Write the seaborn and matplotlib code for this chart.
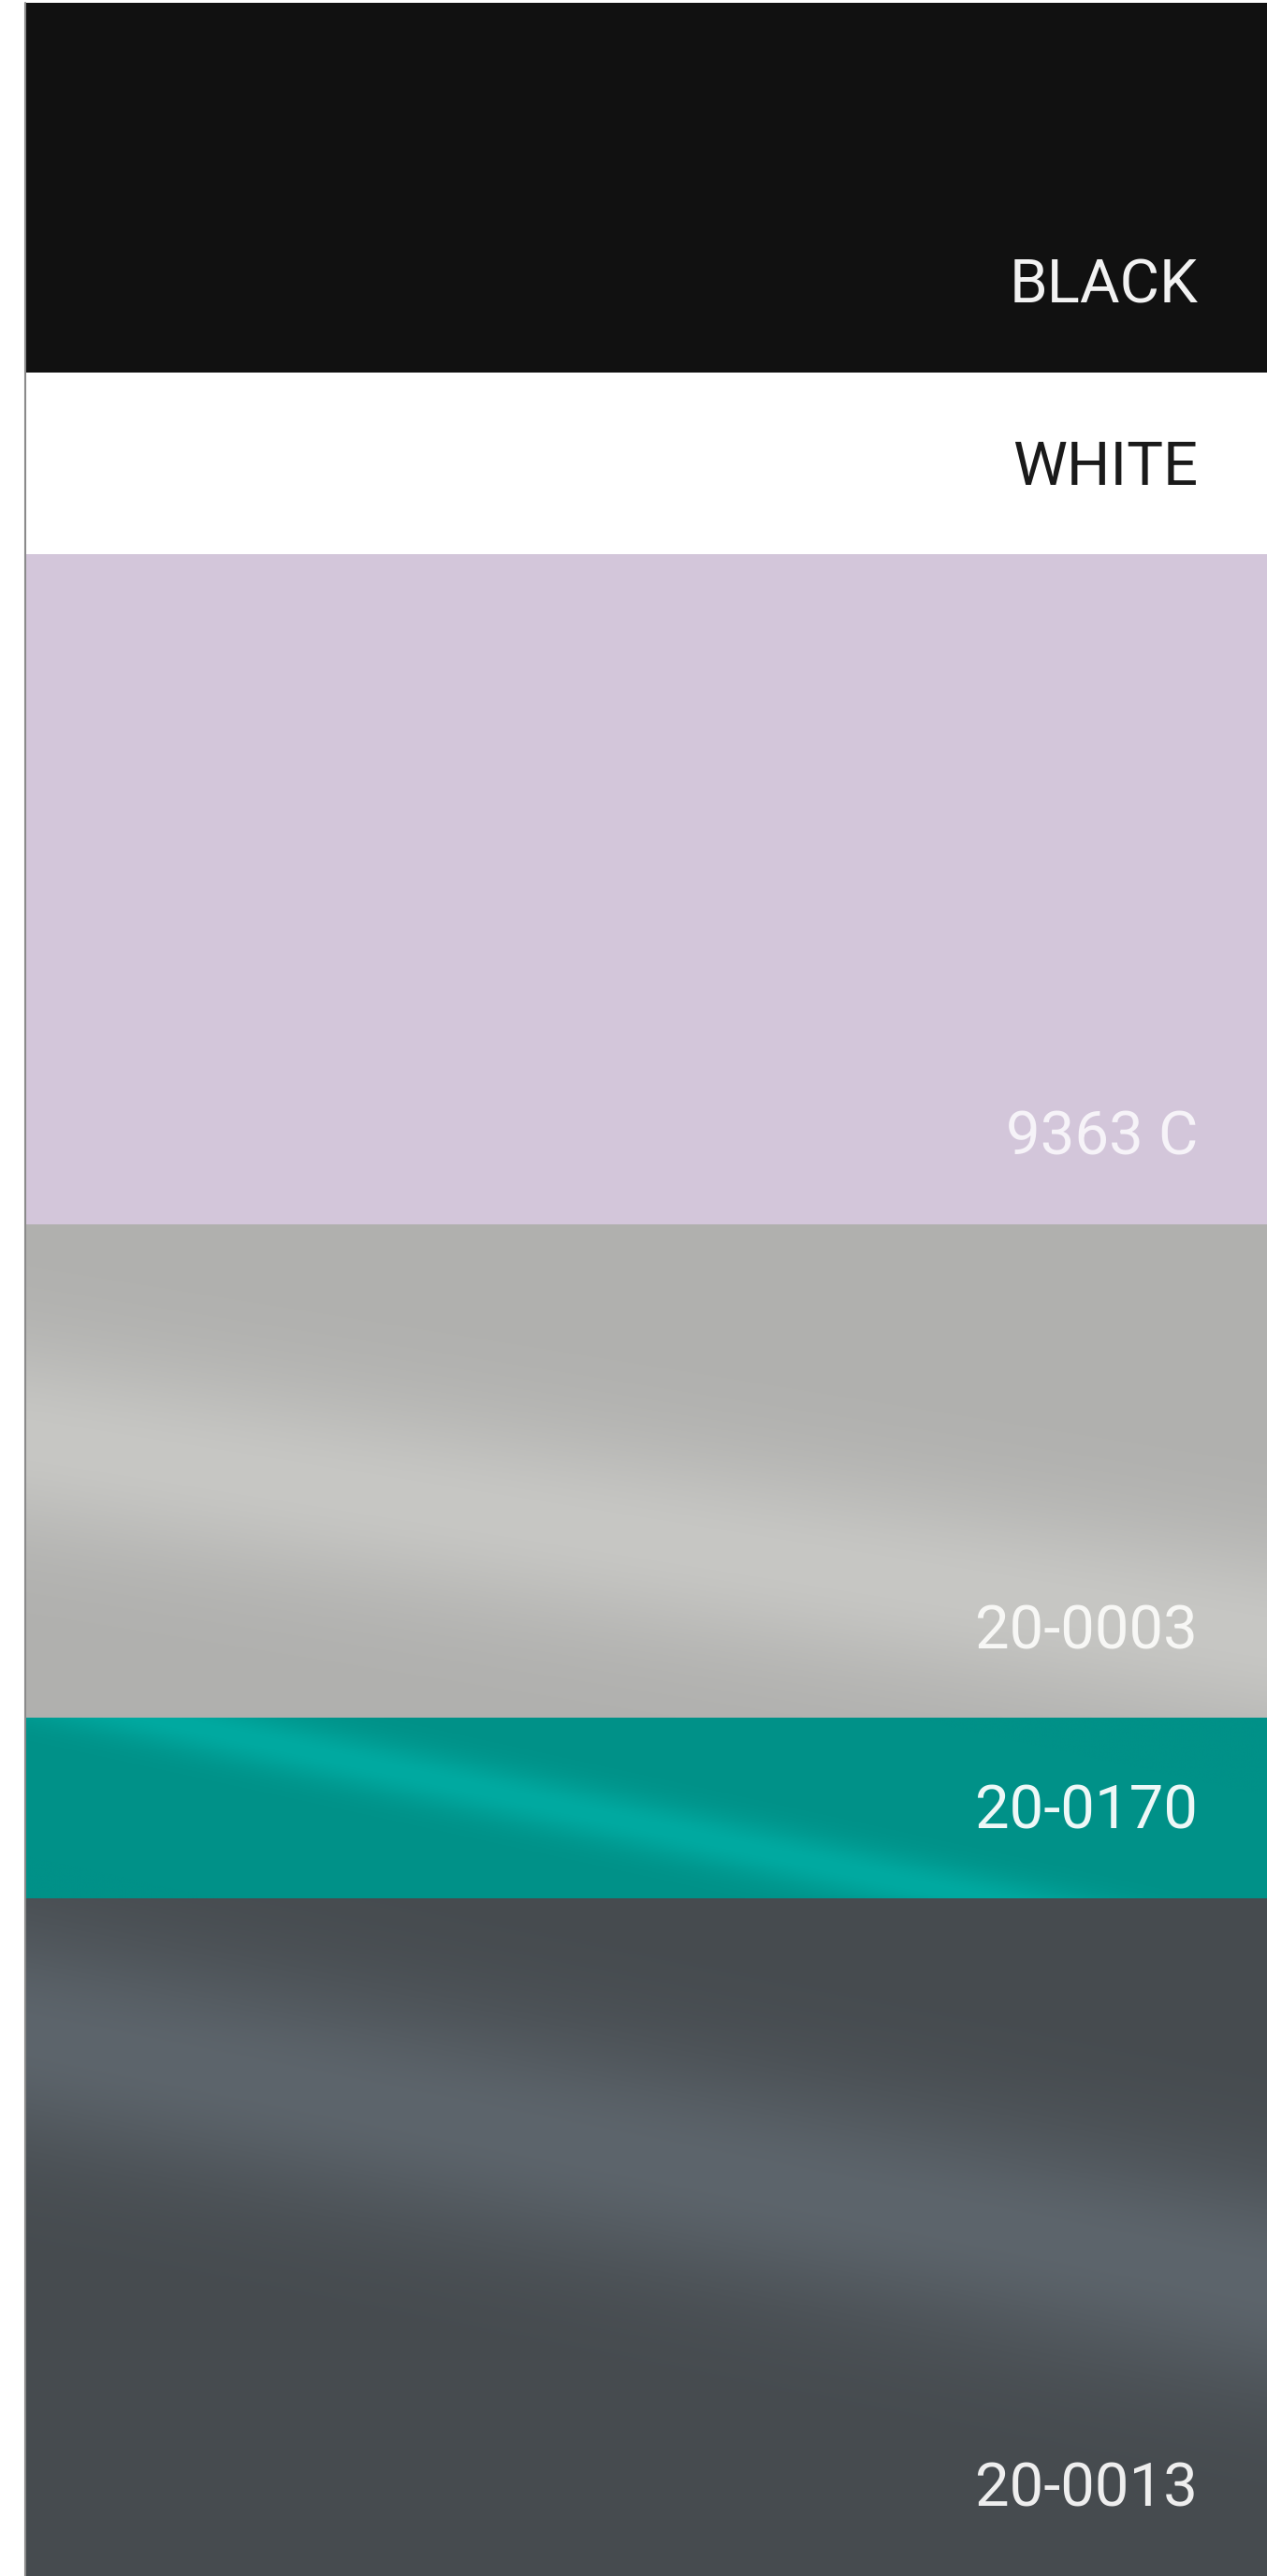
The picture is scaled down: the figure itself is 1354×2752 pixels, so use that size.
import numpy as np
import matplotlib.pyplot as plt
import matplotlib.colors as mcolors
import seaborn as sns

# =========================
# DATA
# =========================
swatch_names = ["BLACK", "WHITE", "9363 C", "20-0003", "20-0170", "20-0013"]
swatch_heights = [395, 194, 716, 527, 193, 724]   # band heights in px
swatch_colors = ["#111111", "#ffffff", "#d3c6da", "#b0b0ae", "#009188", "#464b4f"]
sheen_colors = ["#111111", "#ffffff", "#d3c6da", "#c7c7c4", "#00aaa1", "#5d656c"]
label_colors = ["#f2f2f2", "#1a1a1a", "#f6f3f8", "#f7f7f5", "#eef8f7", "#eeeeee"]

# sheen stripe: centre at left edge (offset from band top), slope, width
sheen_offset = [0, 0, 0, 230, -30, 145]
sheen_slope = [0, 0, 0, 0.16, 0.22, 0.2]
sheen_width = [1, 1, 1, 105, 30, 120]

# =========================
# FIGURE
# =========================
W, H = 1354, 2752
sns.set_theme(style="white")
plt.rcParams["font.family"] = ["Roboto", "DejaVu Sans"]

fig = plt.figure(figsize=(W / 100, H / 100), dpi=100)
ax = fig.add_axes([0, 0, 1, 1])
ax.set_xlim(0, W)
ax.set_ylim(H, 0)
ax.axis("off")

x0 = 28
top0 = 3
bottoms = np.cumsum(swatch_heights) + top0
tops = bottoms - np.array(swatch_heights)

bars = ax.bar(
    [x0] * len(swatch_names), swatch_heights, width=W - x0, bottom=tops,
    align="edge", color=swatch_colors, linewidth=0
)

# soft diagonal sheen on the metallic swatches
for i, bar in enumerate(bars):
    if sheen_slope[i] == 0:
        continue
    xs = np.linspace(0, W - x0, 300)
    ys = np.linspace(0, swatch_heights[i], 200)
    XX, YY = np.meshgrid(xs, ys)
    d = (YY - (sheen_offset[i] + sheen_slope[i] * XX)) / sheen_width[i]
    k = np.exp(-d ** 2)[..., None]
    base = np.array(mcolors.to_rgb(swatch_colors[i]))
    hi = np.array(mcolors.to_rgb(sheen_colors[i]))
    img = base + (hi - base) * k
    im = ax.imshow(img, extent=(x0, W, bottoms[i], tops[i]),
                   aspect="auto", interpolation="bilinear", zorder=1.5)
    im.set_clip_path(bar)

# left edge line
ax.plot([x0 - 1, x0 - 1], [top0, H], color="#8a8a8a", lw=1.5, zorder=3)

# labels
for i, name in enumerate(swatch_names):
    ax.text(1280, bottoms[i] - 74, name, ha="right", va="baseline",
            fontsize=47, fontweight="normal", color=label_colors[i], zorder=4)

plt.savefig("out.png", dpi=100)
plt.close()
